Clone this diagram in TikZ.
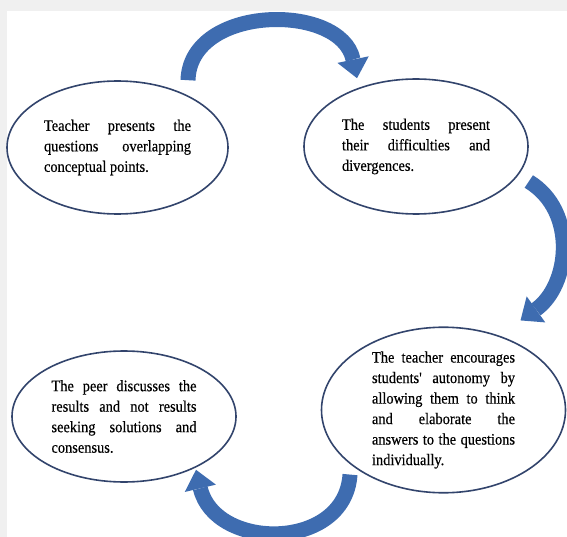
\documentclass[tikz,border=0pt]{standalone}
\usepackage{fontspec}
\setmainfont{Liberation Serif}
\newfontfamily\bubblefont{Liberation Serif}[FakeStretch=0.9, FakeBold=0.4]
\usepackage{xcolor}
\usepackage{tikz}
\usetikzlibrary{arrows.meta,positioning,shapes.geometric,calc}

\definecolor{arrowblue}{RGB}{62,108,176}
\definecolor{rimblue}{RGB}{50,68,108}

\begin{document}
\begin{tikzpicture}[
    x=1pt, y=-1pt,
    bubble/.style={draw=rimblue, line width=1.6pt, ellipse, inner sep=0pt,
        align=justify, font=\bubblefont\fontsize{16}{20.5}\selectfont},
    flow/.style={draw=arrowblue, line width=15pt,
        -{Triangle[width=32pt, length=19pt, line width=0pt]}}
]
    \useasboundingbox (0,0) rectangle (567,537);
    \fill[black!6] (0,0) rectangle (567,537);
    \fill[white] (7,11) rectangle (567,537);

    % the four stages
    \node[bubble, minimum width=221pt, minimum height=133pt, text width=147pt] (teacher) at (117.5,147.5)
        {Teacher presents the\linebreak questions overlapping\linebreak conceptual points.};
    \node[bubble, minimum width=224pt, minimum height=135pt, text width=148pt] (students) at (416,146.5)
        {The students present\linebreak their difficulties and\linebreak divergences.};
    \node[bubble, minimum width=244pt, minimum height=164pt, text width=143pt] (autonomy) at (443.5,410)
        {The teacher encourages\linebreak students' autonomy by\linebreak allowing them to think\linebreak and elaborate the\linebreak answers to the questions\linebreak individually.};
    \node[bubble, minimum width=224pt, minimum height=131pt, text width=145pt] (peer) at (124,416.5)
        {The peer discusses the\linebreak results and not results\linebreak seeking solutions and\linebreak consensus.};

    % cycle arrows
    \draw[flow] ([xshift=70.5pt]teacher.north) .. controls +(2,-76) and +(-16,-76) .. ([xshift=-59pt]students.north);
    \draw[flow] ([yshift=-35pt]students.east) .. controls +(49,30) and +(49,-35) .. ([xshift=77pt,yshift=6pt]autonomy.north);
    \draw[flow] ([xshift=-93.5pt,yshift=19pt]autonomy.south) .. controls +(-5,77) and +(19,81) .. ([xshift=72pt,yshift=13pt]peer.south);
\end{tikzpicture}
\end{document}
